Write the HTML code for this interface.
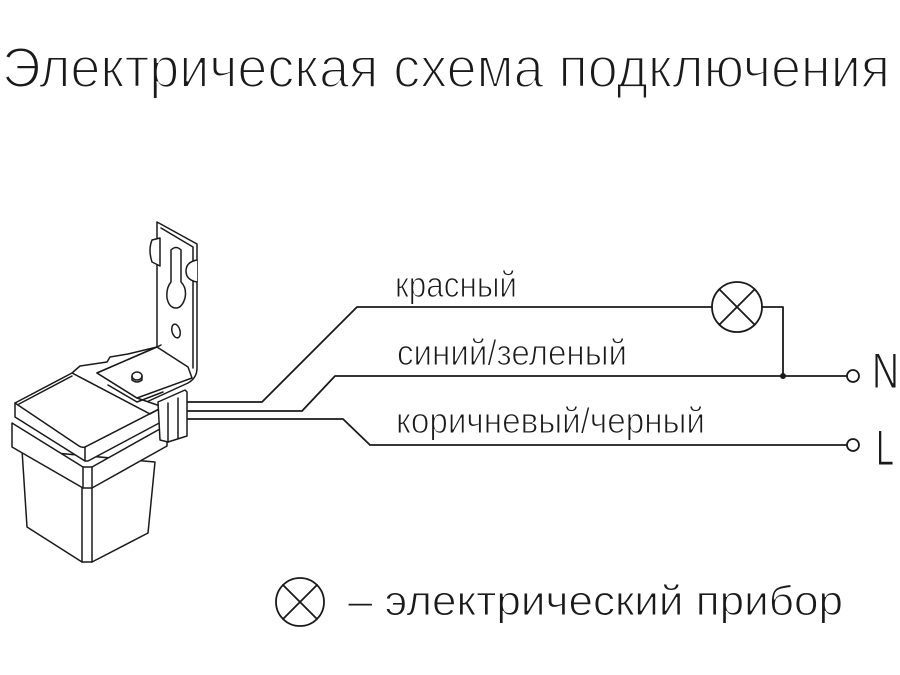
<!DOCTYPE html>
<html><head><meta charset="utf-8"><style>
html,body{margin:0;padding:0;background:#fff;}
svg{display:block;}
text{font-family:"Liberation Sans","DejaVu Sans",sans-serif;fill:#1a1a1a;}
.t{stroke:#fff;stroke-width:1.1;paint-order:normal;}
.tt{stroke:#fff;stroke-width:2;paint-order:normal;}
</style></head><body>
<svg width="900" height="675" viewBox="0 0 900 675" xmlns="http://www.w3.org/2000/svg">
<rect width="900" height="675" fill="#fff"/>
<!-- Title -->
<text class="tt" x="2" y="87" font-size="57" textLength="888" lengthAdjust="spacingAndGlyphs">Электрическая схема подключения</text>

<g fill="none" stroke="#1a1a1a" stroke-width="1.8" stroke-linejoin="round" stroke-linecap="round">
<!-- wires -->
<polyline points="187,402 262,402 357,307 712,307"/>
<polyline points="187,411 302,411 335,376 847,376"/>
<polyline points="187,419 343,419 370,445 847,445"/>
<!-- lamp -->
<circle cx="737" cy="307" r="25" fill="#fff"/>
<line x1="719.3" y1="289.3" x2="754.7" y2="324.7"/>
<line x1="754.7" y1="289.3" x2="719.3" y2="324.7"/>
<polyline points="762,307 783,307 783,376"/>
<circle cx="853" cy="376" r="6" fill="#fff"/>
<circle cx="853" cy="445" r="6" fill="#fff"/>
<!-- legend symbol -->
<circle cx="300" cy="602" r="24"/>
<line x1="283" y1="585" x2="317" y2="619"/>
<line x1="317" y1="585" x2="283" y2="619"/>
</g>
<circle cx="783" cy="376" r="3" fill="#1a1a1a"/>

<!-- Device drawing -->
<g fill="#fff" stroke="#1a1a1a" stroke-width="1.5" stroke-linejoin="round" stroke-linecap="round">
<!-- bracket vertical plate -->
<path d="M157,222 L197,244 L197,368 Q197,378 188,383 L140,405 L97,373 L157,347 Z"/>
<path d="M161,228 L193,247 L193,368" fill="none"/>
<path d="M152,240 Q148,250 152,262 L160,266 L160,238 Z"/>
<path d="M197,260 Q186,262 186,271 Q186,280 197,282" fill="#fff"/>
<path d="M171,250 Q176,245 181,250 L181,282 Q187,288 185,298 Q182,308 176,308 Q169,308 167,298 Q166,288 171,282 Z"/>
<ellipse cx="176" cy="331" rx="4" ry="7" transform="rotate(-15 176 331)"/>
<line x1="157" y1="347" x2="161" y2="345"/>
<!-- neck under bracket -->
<path d="M72,373 L80,366 L107,362 L110,357 L128,354 L157,347 L97,373 L137,398 L163,407 L150,414 Z"/>
<!-- bracket base plate -->
<path d="M97,373 L157,347 L188,367 L192,378 L137,398 Z"/>
<path d="M108,385 L137,402 L163,392" fill="none"/>
<ellipse cx="137" cy="376" rx="5" ry="4"/>
<path d="M132,376 L132,380 Q137,384 142,380 L142,376" fill="none"/>
<!-- body lower part -->
<path d="M22,450 L27,527 L82,562 L92,562 L148,533 L155,462 Z"/>
<line x1="82" y1="488" x2="82" y2="562"/>
<line x1="92" y1="488" x2="92" y2="562"/>
<!-- lower band -->
<path d="M12,423 L83,467 L92,467 L167,425 L167,446 L92,488 L83,488 L12,447 Z"/>
<line x1="83" y1="467" x2="83" y2="488"/>
<line x1="92" y1="467" x2="92" y2="488"/>
<!-- upper band -->
<path d="M15,403 L85,447 L163,407 L163,421 L88,461 L85,461 L15,417 Z"/>
<line x1="85" y1="447" x2="85" y2="461"/>
<!-- top face -->
<path d="M15,403 L72,373 L150,414 L163,407 L85,447 Q82,448 79,446 Z"/>
<path d="M19,404 L72,376" fill="none"/>
<!-- connector block -->
<path d="M158,402 L185,390 L187,392 L187,436 L168,442 L160,440 Z"/>
<line x1="168" y1="403" x2="168" y2="442"/>
<line x1="178" y1="398" x2="178" y2="438"/>
</g>

<!-- labels -->
<text class="t" x="395" y="297" font-size="36" textLength="122" lengthAdjust="spacingAndGlyphs">красный</text>
<text class="t" x="397" y="365" font-size="36" textLength="230" lengthAdjust="spacingAndGlyphs">синий/зеленый</text>
<text class="t" x="396" y="433" font-size="36" textLength="309" lengthAdjust="spacingAndGlyphs">коричневый/черный</text>
<text class="t" x="872" y="388" font-size="50" textLength="27" lengthAdjust="spacingAndGlyphs">N</text>
<text class="t" x="876" y="465" font-size="50" textLength="18" lengthAdjust="spacingAndGlyphs">L</text>
<text class="t" x="348" y="615" font-size="42" textLength="495" lengthAdjust="spacingAndGlyphs">– электрический прибор</text>
</svg>
</body></html>
